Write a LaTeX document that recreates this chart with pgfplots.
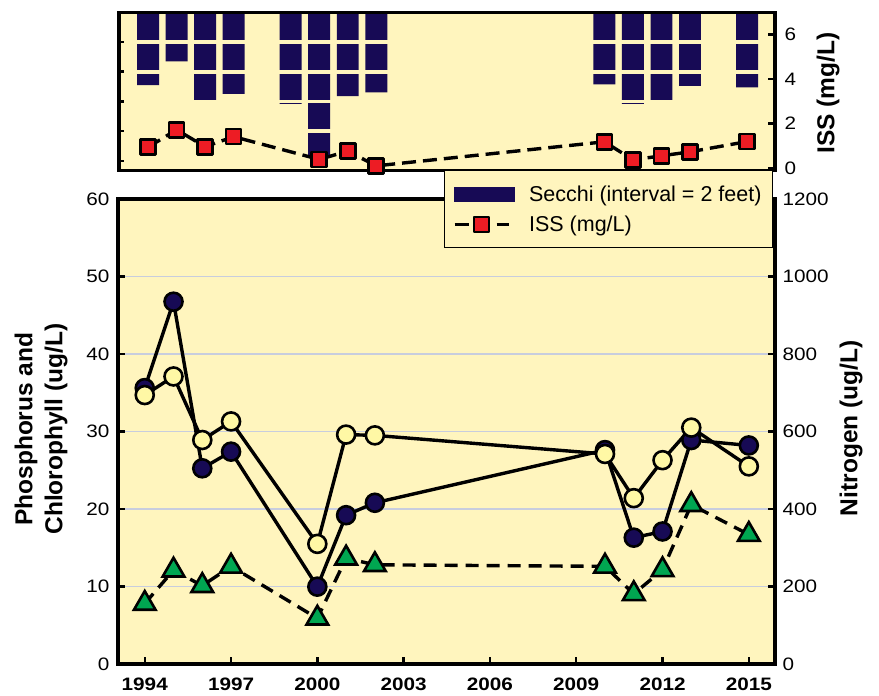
\documentclass[border=0pt]{standalone}
\usepackage{fontspec}
\setmainfont{Liberation Sans}
\newfontfamily\tickfont{Liberation Sans}[FakeStretch=1.15]
\usepackage{pgfplots}
\pgfplotsset{compat=1.18}
\definecolor{bgy}{RGB}{255,245,190}
\definecolor{navy}{RGB}{23,10,85}
\definecolor{issred}{RGB}{237,28,36}
\definecolor{ngreen}{RGB}{0,166,81}
\definecolor{cyel}{RGB}{255,248,165}
\definecolor{gridc}{RGB}{200,205,222}
\pgfplotsset{
  common/.style={
    scale only axis,
    /pgf/number format/assume math mode=true,
    /pgf/number format/1000 sep={},
    tick align=inside,
    major tick length=7pt,
    tick style={line width=2.5pt, black},
    axis line style={line width=3.5pt},
    ticklabel style={font=\tickfont\fontsize{18}{20}\selectfont},
    clip=false,
  },
  isslegend/.style={legend image code/.code={\draw[mark repeat=2,mark phase=2,##1] plot coordinates {(0pt,0pt) (27pt,0pt) (54pt,0pt)};}},
  secchilegend/.style={legend image code/.code={\fill[navy] (0pt,-7pt) rectangle (60pt,7pt);}},
}
\begin{document}
\begin{tikzpicture}
\useasboundingbox (0,0) rectangle (879pt,696pt);
% ---------------- bottom panel, left axis
\begin{axis}[common,
  at={(118pt,32pt)}, anchor=south west,
  width=657pt, height=465pt,
  xmin=1993.07, xmax=2015.91,
  ymin=0, ymax=60,
  xtick={1994,1997,...,2015},
  xtick pos=bottom,
  ytick={0,10,...,60},
  ytick pos=left,
  xticklabel style={font=\tickfont\bfseries\fontsize{18}{20}\selectfont, yshift=-10pt},
  yticklabel style={xshift=-5pt},
  ymajorgrids, grid style={gridc, line width=1.2pt},
  axis background/.style={fill=bgy},
  ylabel={Phosphorus and\\Chlorophyll (ug/L)},
  ylabel style={at={(axis description cs:-0.117,0.505)}, anchor=center, align=center,
    font=\bfseries\fontsize{24.5}{30}\selectfont},
]
\addplot[black, line width=3.4pt, mark=*, mark size=9pt,
  mark options={fill=navy, draw=black, line width=2.6pt}] coordinates {
  (1994,35.6) (1995,46.75) (1996,25.25) (1997,27.4) (2000,9.98) (2001,19.2)
  (2002,20.8) (2010,27.6) (2011,16.3) (2012,17.1) (2013,28.9) (2015,28.2)};
\addplot[black, line width=3.4pt, mark=*, mark size=9pt,
  mark options={fill=cyel, draw=black, line width=2.6pt}] coordinates {
  (1994,34.7) (1995,37.1) (1996,28.9) (1997,31.3) (2000,15.5) (2001,29.6)
  (2002,29.5) (2010,27.1) (2011,21.4) (2012,26.3) (2013,30.5) (2015,25.5)};
\end{axis}
% ---------------- bottom panel, right axis
\begin{axis}[common,
  at={(118pt,32pt)}, anchor=south west,
  width=657pt, height=465pt,
  xmin=1993.07, xmax=2015.91,
  ymin=0, ymax=1200,
  xtick=\empty,
  ytick={0,200,...,1200},
  ytick pos=right,
  yticklabel style={xshift=4pt},
  ylabel={Nitrogen (ug/L)},
  ylabel style={at={(axis description cs:1.1157,0.507)}, anchor=center,
    font=\bfseries\fontsize{24.5}{30}\selectfont},
]
\addplot[black, line width=3.4pt, dash pattern=on 13pt off 8pt, mark=triangle*, mark size=12.5pt,
  mark options={solid, fill=ngreen, draw=black, line width=2.6pt}] coordinates {
  (1994,156) (1995,242) (1996,202) (1997,252) (2000,118) (2001,273)
  (2002,256) (2010,252) (2011,181) (2012,243) (2013,411) (2015,334)};
\end{axis}
% ---------------- top panel, Secchi (reversed depth scale)
\begin{axis}[common,
  at={(119pt,525.7pt)}, anchor=south west,
  width=656pt, height=158pt,
  xmin=1992.98, xmax=2015.98,
  ymin=0, ymax=10.64, y dir=reverse,
  xtick=\empty,
  ytick={2,4,...,10}, yticklabels={},
  ytick pos=left, major tick length=5pt,
  axis background/.style={fill=bgy},
]
\addplot[ybar, bar width=0.77, bar shift=0pt, fill=navy, draw=none] coordinates {
  (1994,4.9) (1995,3.3) (1996,6.0) (1997,5.5) (1999,6.17) (2000,9.8) (2001,5.65)
  (2002,5.4) (2010,4.85) (2011,6.17) (2012,6.0) (2013,4.95) (2015,5.05)};
\addplot[bgy, line width=3.7pt] coordinates {(1993.5,2) (2015.6,2)};
\addplot[bgy, line width=3.7pt] coordinates {(1993.5,4) (2015.6,4)};
\addplot[bgy, line width=3.7pt] coordinates {(1993.5,6) (2015.6,6)};
\addplot[bgy, line width=3.7pt] coordinates {(1993.5,8) (2015.6,8)};
\end{axis}
% ---------------- top panel, ISS
\begin{axis}[common,
  at={(119pt,525.7pt)}, anchor=south west,
  width=656pt, height=158pt,
  xmin=1992.98, xmax=2015.98,
  ymin=-0.1, ymax=7,
  xtick=\empty,
  ytick={0,2,4,6},
  ytick pos=right,
  yticklabel style={xshift=6pt},
  ylabel={ISS (mg/L)},
  ylabel style={at={(axis description cs:1.081,0.489)}, anchor=center,
    font=\bfseries\fontsize{24.5}{30}\selectfont},
  legend style={at={(rel axis cs:1,0)}, xshift=-2pt, anchor=north east,
    fill=bgy, draw=black, line width=1pt,
    font=\fontsize{21.5}{24}\selectfont,
    inner xsep=8pt, inner ysep=11pt, row sep=5pt, column sep=11pt,
    nodes={inner xsep=3pt, inner ysep=4pt}},
  legend cell align=left,
]
\addlegendimage{secchilegend}
\addlegendentry{Secchi (interval = 2 feet)}
\addplot[black, line width=3.4pt, dash pattern=on 14pt off 7pt, mark=square*, mark size=7.5pt,
  mark options={solid, fill=issred, draw=black, line width=2.6pt, line join=round},
  isslegend]
  coordinates {
  (1994,0.94) (1995,1.72) (1996,0.96) (1997,1.41) (2000,0.39) (2001,0.76)
  (2002,0.10) (2010,1.18) (2011,0.37) (2012,0.55) (2013,0.73) (2015,1.19)};
\addlegendentry{ISS (mg/L)}
\end{axis}
\end{tikzpicture}
\end{document}
